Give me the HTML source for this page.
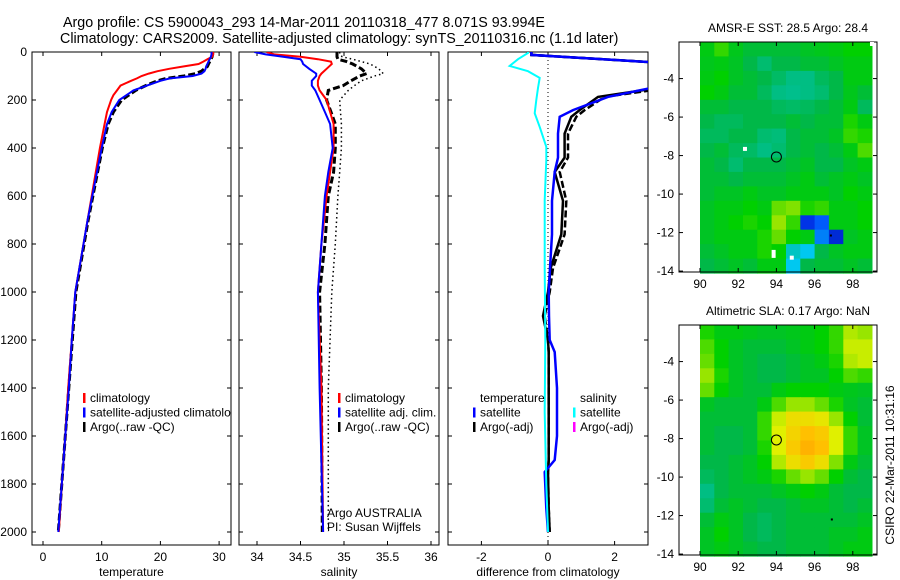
<!DOCTYPE html>
<html><head><meta charset="utf-8"><style>
html,body{margin:0;padding:0;background:#fff;}
svg{display:block;font-family:"Liberation Sans",sans-serif;}
text{fill:#000;}
</style></head><body>
<svg id="fig" width="900" height="580" viewBox="0 0 900 580" xmlns="http://www.w3.org/2000/svg">
<rect width="900" height="580" fill="#fff"/>
<text x="63" y="27" font-size="14.3">Argo profile: CS 5900043_293 14-Mar-2011 20110318_477 8.071S 93.994E</text>
<text x="60" y="43" font-size="14.3">Climatology: CARS2009. Satellite-adjusted climatology: synTS_20110316.nc (1.1d later)</text>
<g id="g1"></g>
<g id="g2"></g>
<g id="g3"></g>
<g id="m1"></g>
<g id="m2"></g>
<text transform="translate(894,465) rotate(-90)" font-size="12" text-anchor="middle">CSIRO 22-Mar-2011 10:31:16</text>
</svg>
<script>
// ---- data ----
const depthsT = [0,10,20,30,40,50,60,70,80,90,100,110,120,140,160,180,200,250,300,400,500,600,700,800,900,1000,1200,1400,1600,1800,2000];
const tempClim = [29,29,28.8,28,27.3,26.5,24,21.5,19.5,18,16.8,16,15,13.2,12.6,12,11.6,10.9,10.5,9.7,9,8.3,7.6,6.9,6.2,5.5,4.9,4.3,3.8,3.2,2.7];
const tempSat = [28.7,28.7,28.6,28.4,28.2,28,27.8,27.7,27.5,27,25.5,21.6,20,17.7,15.4,14.2,13,11.7,10.9,10,9.2,8.4,7.6,6.9,6.2,5.5,4.9,4.4,3.8,3.2,2.6];
const tempArgo = [28.9,28.9,28.8,28.6,28.4,28.2,28,27.5,27,26,24,21,19.5,17.5,15.8,14.6,13.4,12,11.1,10.1,9.3,8.5,7.7,7,6.3,5.6,5,4.4,3.8,3.2,2.6];
const depthsS = [0,10,20,30,40,50,70,90,100,120,140,160,200,250,300,400,500,600,800,1000,1400,2000];
const salClim = [34.11,34.2,34.5,34.7,34.85,34.86,34.8,34.74,34.72,34.7,34.7,34.72,34.8,34.84,34.88,34.88,34.84,34.8,34.74,34.7,34.74,34.76];
const salSat = [33.97,34.1,34.3,34.5,34.52,34.53,34.6,34.68,34.68,34.63,34.63,34.67,34.72,34.78,34.84,34.87,34.82,34.78,34.74,34.7,34.72,34.76];
const salArgo = [34.92,34.92,34.92,34.93,35.03,35.1,35.2,35.26,35.18,35.08,34.99,34.82,34.8,34.85,34.9,34.9,34.88,34.82,34.78,34.72,34.74,34.75];
const salArgoRaw = [34.95,34.95,34.98,35.1,35.2,35.3,35.4,35.45,35.35,35.2,35.12,35.05,34.95,34.96,34.97,34.97,34.95,34.93,34.9,34.86,34.82,34.82];
const depthsD = [0,12,50,100,150,187,242,270,340,440,500,620,760,900,1000,1100,1200,1250,1400,1600,1700,1750,1900,2000];
const diffTSat = [-0.5,-0.5,4,4,3.1,1.8,0.75,0.35,0.3,0.3,0.2,0.12,0.12,0.06,0.02,0.03,0.05,0.2,0.27,0.27,0.2,-0.1,-0.05,0];
const diffTArgo = [-0.5,-0.5,4,4,3.3,1.5,0.95,0.7,0.5,0.5,0.2,0.45,0.4,0.08,0,-0.15,0,0.02,0.02,0.02,0.02,0,0.02,0.05];
const diffTArgoDash = [-0.5,-0.5,4,4,3.6,1.7,1.1,0.85,0.6,0.6,0.35,0.55,0.5,0.15,0.05,-0.1,0,0.02,0.02,0.02,0.02,0,0.02,0.05];
const depthsDS = [0,4,30,58,80,108,150,200,255,312,395,450,617,895,1200,1500,1800,2000];
const diffSSat = [-0.6,-0.6,-0.9,-1.15,-0.6,-0.25,-0.3,-0.35,-0.4,-0.25,-0.05,-0.05,-0.1,-0.1,-0.08,-0.1,-0.05,0];
const depthTicks = [0,200,400,600,800,1000,1200,1400,1600,1800,2000];
const tempTicks = [0,10,20,30];
const salTicks = [34,34.5,35,35.5,36];
const salTickLabels = ["34","34.5","35","35.5","36"];
const diffTicks = [-2,0,2];
const lonTicks = [90,92,94,96,98];
const latTicks = [-4,-6,-8,-10,-12,-14];
const sstGrid = [
[.56,.62,.55,.52,.52,.52,.52,.54,.55,.56,.58,.58],
[.55,.56,.54,.50,.46,.50,.50,.52,.52,.54,.56,.56],
[.56,.58,.54,.52,.50,.47,.44,.44,.48,.50,.56,.56],
[.58,.56,.52,.52,.48,.44,.43,.44,.46,.50,.55,.52],
[.52,.52,.50,.50,.50,.48,.47,.48,.50,.52,.56,.48],
[.50,.48,.48,.50,.50,.50,.52,.50,.52,.52,.60,.56],
[.48,.48,.50,.50,.46,.45,.50,.52,.52,.54,.62,.60],
[.50,.52,.48,.47,.44,.46,.50,.52,.50,.52,.56,.64],
[.52,.50,.46,.50,.50,.50,.52,.54,.50,.50,.54,.56],
[.52,.52,.50,.52,.52,.52,.54,.56,.52,.54,.56,.54],
[.52,.54,.54,.56,.54,.54,.56,.56,.56,.54,.58,.56],
[.54,.56,.56,.58,.56,.66,.68,.60,.62,.56,.56,.58],
[.54,.56,.58,.60,.58,.70,.62,.12,.18,.56,.56,.58],
[.54,.56,.56,.56,.60,.66,.58,.56,.22,.10,.54,.56],
[.52,.54,.56,.56,.60,.58,.36,.30,.50,.54,.56,.56],
[.50,.52,.54,.52,.56,.56,.30,.50,.52,.52,.54,.52]];
const slaGrid = [
[.60,.56,.56,.55,.54,.54,.55,.56,.58,.62,.72,.70],
[.64,.58,.54,.52,.52,.52,.54,.56,.58,.62,.74,.74],
[.66,.58,.54,.52,.50,.50,.52,.54,.56,.60,.72,.74],
[.70,.60,.54,.52,.50,.50,.52,.54,.54,.58,.64,.62],
[.66,.58,.54,.52,.52,.56,.58,.58,.58,.56,.55,.54],
[.54,.52,.52,.52,.56,.64,.70,.70,.66,.60,.54,.52],
[.52,.52,.52,.52,.62,.74,.80,.80,.78,.70,.58,.52],
[.52,.50,.50,.52,.62,.76,.82,.86,.84,.76,.62,.54],
[.52,.50,.50,.52,.60,.76,.84,.88,.86,.76,.62,.54],
[.50,.50,.52,.54,.58,.72,.80,.84,.80,.68,.56,.52],
[.48,.50,.52,.54,.56,.60,.66,.70,.66,.58,.52,.50],
[.44,.50,.52,.52,.52,.54,.56,.58,.56,.52,.50,.50],
[.46,.52,.54,.52,.50,.50,.52,.54,.54,.52,.50,.52],
[.52,.56,.54,.50,.48,.50,.52,.52,.52,.52,.52,.54],
[.54,.58,.54,.50,.48,.50,.52,.52,.52,.54,.54,.56],
[.54,.56,.54,.52,.50,.50,.52,.52,.52,.54,.56,.56]];
const argoLon = [94];
const argoLat = [-8.071];

// ---- helpers ----
const NS = "http://www.w3.org/2000/svg";
function mk(parent, tag, attrs, txt){
  const e = document.createElementNS(NS, tag);
  for (const k in attrs) e.setAttribute(k, attrs[k]);
  if (txt !== undefined) e.textContent = txt;
  parent.appendChild(e);
  return e;
}
const TOP = 52, BOT = 545;
const yD = d => TOP + d * 0.24;

function panel(g, id, left, right, xs, xTicks, xLabels, xTitle, showY){
  const cp = mk(g, 'clipPath', {id: 'clip' + id});
  mk(cp, 'rect', {x: left, y: TOP, width: right - left, height: BOT - TOP});
  const box = mk(g, 'rect', {x: left, y: TOP, width: right - left, height: BOT - TOP, fill: 'none', stroke: '#000', 'stroke-width': 1});
  
  
  xTicks.forEach((v, i) => {
    const x = xs(v);
    mk(g, 'line', {x1: x, x2: x, y1: BOT, y2: BOT - 4, stroke: '#000'});
    mk(g, 'line', {x1: x, x2: x, y1: TOP, y2: TOP + 4, stroke: '#000'});
    const t = mk(g, 'text', {x: x, y: BOT + 16, 'font-size': 12, 'text-anchor': 'middle'}, xLabels[i]);
    
    
  });
  depthTicks.forEach(d => {
    const y = yD(d);
    mk(g, 'line', {x1: left, x2: left + 4, y1: y, y2: y, stroke: '#000'});
    mk(g, 'line', {x1: right, x2: right - 4, y1: y, y2: y, stroke: '#000'});
    if (showY) {
      const t = mk(g, 'text', {x: 27, y: y + 4, 'font-size': 12, 'text-anchor': 'end'}, String(d));
      
      
    }
  });
  const tt = mk(g, 'text', {x: (left + right) / 2, y: BOT + 31, 'font-size': 12, 'text-anchor': 'middle'}, xTitle);
  
  
  return mk(g, 'g', {'clip-path': 'url(#clip' + id + ')'});
}
function line(g, xs, depths, vals, color, w, dash, name){
  const pts = depths.map((d, i) => xs(vals[i]).toFixed(1) + ',' + yD(d).toFixed(1)).join(' ');
  const p = mk(g, 'polyline', {points: pts, fill: 'none', stroke: color, 'stroke-width': w});
  if (dash) p.setAttribute('stroke-dasharray', dash);
  
  
}
function legend(g, x, y, items, name){
  items.forEach((it, i) => {
    const yy = y + i * 14.5;
    if (it[0]) mk(g, 'rect', {x: x, y: yy - 9, width: 2.5, height: 10, fill: it[0]});
    const t = mk(g, 'text', {x: x + 7, y: yy, 'font-size': 12}, it[1]);
    
    
  });
}

// ---- panel 1: temperature ----
const g1 = document.getElementById('g1');
const xT = v => 43 + v * 5.87;
const c1 = panel(g1, 'temperature', 32, 231, xT, tempTicks, tempTicks.map(String), 'temperature', true);
line(c1, xT, depthsT, tempArgo, '#000', 3, '7,3', 'argo-temperature-line');
line(c1, xT, depthsT, tempClim, '#f00', 2, null, 'climatology-temperature-line');
line(c1, xT, depthsT, tempSat, '#00f', 2, null, 'satellite-temperature-line');
legend(c1, 83, 402, [['#f00','climatology'],['#00f','satellite-adjusted climatology'],['#000','Argo(..raw -QC)']], 'temperature-legend');

// ---- panel 2: salinity ----
const g2 = document.getElementById('g2');
const xS = v => 257 + (v - 34) * 87;
const c2 = panel(g2, 'salinity', 239, 439, xS, salTicks, salTickLabels, 'salinity', false);
line(c2, xS, depthsS, salArgoRaw, '#000', 1.5, '1.5,3', 'argo-raw-salinity-line');
line(c2, xS, depthsS, salArgo, '#000', 3, '7,3', 'argo-salinity-line');
line(c2, xS, depthsS, salClim, '#f00', 2, null, 'climatology-salinity-line');
line(c2, xS, depthsS, salSat, '#00f', 2, null, 'satellite-salinity-line');
legend(g2, 338, 402, [['#f00','climatology'],['#00f','satellite adj. clim.'],['#000','Argo(..raw -QC)']], 'salinity-legend');
mk(g2, 'text', {x: 327, y: 517, 'font-size': 12}, 'Argo AUSTRALIA');
mk(g2, 'text', {x: 327, y: 531, 'font-size': 12}, 'PI: Susan Wijffels');

// ---- panel 3: differences ----
const g3 = document.getElementById('g3');
const xDf = v => 548 + v * 33.3;
const c3 = panel(g3, 'difference', 448, 648, xDf, diffTicks, diffTicks.map(String), 'difference from climatology', false);
mk(c3, 'line', {x1: xDf(0), x2: xDf(0), y1: TOP, y2: BOT, stroke: '#000', 'stroke-width': 1, 'stroke-dasharray': '1,3'});
line(c3, xDf, depthsD, diffTArgoDash, '#000', 2.5, '7,3', 'argo-adj-temperature-diff-dashed');
line(c3, xDf, depthsD, diffTArgo, '#000', 2.5, null, 'argo-temperature-diff-line');
line(c3, xDf, depthsD, diffTSat, '#00f', 2.5, null, 'satellite-temperature-diff-line');
line(c3, xDf, depthsDS, diffSSat, '#0ff', 2, null, 'satellite-salinity-diff-line');
legend(g3, 473, 402, [[null,'temperature'],['#00f','satellite'],['#000','Argo(-adj)']], 'diff-temperature-legend');
legend(g3, 573, 402, [[null,'salinity'],['#0ff','satellite'],['#f0f','Argo(-adj)']], 'diff-salinity-legend');

// ---- maps ----
const stops = [[0,[0,0,128]],[0.15,[0,64,255]],[0.3,[0,200,240]],[0.42,[0,192,150]],[0.5,[0,184,72]],[0.58,[0,208,0]],[0.68,[128,226,0]],[0.76,[224,240,0]],[0.86,[255,192,0]],[0.95,[255,128,0]]];
function cmap(v){
  for (let i = 1; i < stops.length; i++){
    if (v <= stops[i][0]){
      const a = stops[i-1], b = stops[i], t = (v - a[0]) / (b[0] - a[0]);
      return 'rgb(' + a[1].map((c, k) => Math.round(c + (b[1][k] - c) * t)).join(',') + ')';
    }
  }
  return 'rgb(255,128,0)';
}
function drawMap(g, top, title, grid, id){
  const L = 679, R = 877, B = top + 230;
  const xL = lon => 700 + (lon - 90) * 19.1;
  const yL = lat => top + (-2.1 - lat) * 19.25;
  const tt = mk(g, 'text', {x: 788, y: top - 10, 'font-size': 12, 'text-anchor': 'middle'}, title);
  
  
  grid.forEach((row, r) => row.forEach((v, c) => {
    const lon0 = 90 + c * 0.75, lat0 = -2.1 - r * 0.75;
    const cell = mk(g, 'rect', {x: xL(lon0).toFixed(1), y: yL(lat0).toFixed(1), width: (0.75 * 19.1 + 0.6).toFixed(1), height: (0.75 * 19.25 + 0.6).toFixed(1), fill: cmap(v)});
    
    
  }));
  mk(g, 'rect', {x: R, y: top - 2, width: 10, height: 236, fill: '#fff'});
  mk(g, 'rect', {x: L, y: top, width: R - L, height: B - top, fill: 'none', stroke: '#000'});
  lonTicks.forEach(v => {
    const x = xL(v);
    mk(g, 'line', {x1: x, x2: x, y1: B, y2: B - 4, stroke: '#000'});
    mk(g, 'line', {x1: x, x2: x, y1: top, y2: top + 4, stroke: '#000'});
    mk(g, 'text', {x: x, y: B + 16, 'font-size': 12, 'text-anchor': 'middle'}, String(v));
  });
  latTicks.forEach(v => {
    const y = yL(v);
    mk(g, 'line', {x1: L, x2: L + 4, y1: y, y2: y, stroke: '#000'});
    mk(g, 'line', {x1: R, x2: R - 4, y1: y, y2: y, stroke: '#000'});
    mk(g, 'text', {x: 674, y: y + 4, 'font-size': 12, 'text-anchor': 'end'}, String(v));
  });
  argoLon.forEach((lon, i) => {
    const c = mk(g, 'circle', {cx: xL(lon), cy: yL(argoLat[i]), r: 5, fill: 'none', stroke: '#000', 'stroke-width': 1});
    
    
  });
  return {xL, yL};
}
const m1 = document.getElementById('m1');
const s1 = drawMap(m1, 42, 'AMSR-E SST: 28.5 Argo: 28.4', sstGrid, 'sst-map');
mk(m1, 'rect', {x: s1.xL(92.25), y: s1.yL(-7.55), width: 4, height: 4, fill: '#fff'});
mk(m1, 'rect', {x: s1.xL(93.75), y: s1.yL(-12.9), width: 4, height: 8, fill: '#fff'});
mk(m1, 'rect', {x: s1.xL(94.7), y: s1.yL(-13.2), width: 4, height: 4, fill: '#fff'});
mk(m1, 'rect', {x: s1.xL(98.9), y: s1.yL(-2.1), width: 4, height: 4, fill: '#fff'});
mk(m1, 'rect', {x: s1.xL(96.8), y: s1.yL(-12.1), width: 2, height: 2, fill: '#000'});
const m2 = document.getElementById('m2');
const s2 = drawMap(m2, 325, 'Altimetric SLA: 0.17 Argo: NaN', slaGrid, 'sla-map');
mk(m2, 'rect', {x: s2.xL(96.85), y: s2.yL(-12.15), width: 2, height: 2, fill: '#000'});
</script>
</body></html>
